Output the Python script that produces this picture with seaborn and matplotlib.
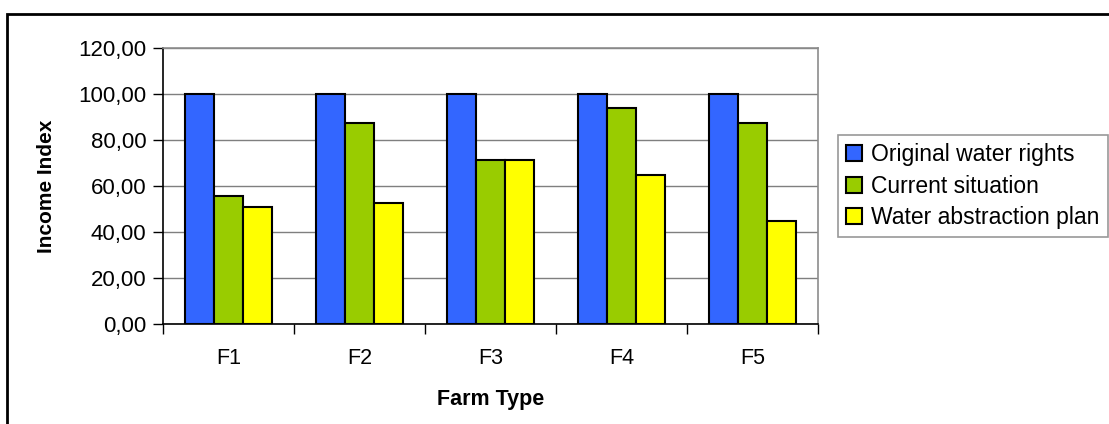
import matplotlib
matplotlib.use("Agg")
import matplotlib.pyplot as plt
from matplotlib.patches import Rectangle
from matplotlib.ticker import FuncFormatter, FixedLocator
import seaborn as sns
import pandas as pd

# Income index per farm type under three water scenarios
farm_types = ["F1", "F2", "F3", "F4", "F5"]
original_water_rights = [100.0, 100.0, 100.0, 100.0, 100.0]
current_situation = [55.5, 87.5, 71.2, 93.8, 87.5]
water_abstraction_plan = [50.7, 52.7, 71.2, 64.6, 44.9]
series_names = ["Original water rights", "Current situation", "Water abstraction plan"]
series_colors = ["#3366FF", "#99CC00", "#FFFF00"]

rows = []
for name, values in zip(series_names,
                        [original_water_rights, current_situation, water_abstraction_plan]):
    for ft, v in zip(farm_types, values):
        rows.append({"Farm Type": ft, "Scenario": name, "Income Index": v})
df = pd.DataFrame(rows)

sns.set_theme(style="white")
plt.rcParams["font.family"] = ["Liberation Sans", "DejaVu Sans"]
plt.rcParams["text.color"] = "black"
plt.rcParams["axes.labelcolor"] = "black"
plt.rcParams["xtick.color"] = "black"
plt.rcParams["ytick.color"] = "black"

fig = plt.figure(figsize=(11.09, 4.24), dpi=100)
ax = fig.add_axes([163 / 1109, 1 - 324 / 424, (818 - 163) / 1109, (324 - 48) / 424])

sns.barplot(data=df, x="Farm Type", y="Income Index", hue="Scenario",
            hue_order=series_names, palette=series_colors, order=farm_types,
            width=0.67, gap=0, edgecolor="black", linewidth=1.5,
            saturation=1, errorbar=None, ax=ax, zorder=3)

ax.set_xlim(-0.5, len(farm_types) - 0.5)
ax.set_ylim(0, 120)
ax.set_yticks([0, 20, 40, 60, 80, 100, 120])
ax.yaxis.set_major_formatter(FuncFormatter(lambda v, p: f"{v:.2f}".replace(".", ",")))
ax.yaxis.grid(True, color="#7f7f7f", linewidth=1.0, zorder=0)
ax.set_axisbelow(True)

# category labels without marks, boundary marks between categories
ax.tick_params(axis="x", which="major", length=0, pad=17, labelsize=15.5, labelcolor="black")
ax.xaxis.set_minor_locator(FixedLocator([i - 0.5 for i in range(len(farm_types) + 1)]))
ax.tick_params(axis="x", which="minor", length=7, width=1, color="black", direction="out", bottom=True)
ax.tick_params(axis="y", which="major", length=7, width=1, color="black", direction="out",
               left=True, labelsize=16, labelcolor="black", pad=5)

for side in ["left", "bottom"]:
    ax.spines[side].set_color("black")
    ax.spines[side].set_linewidth(1.2)
for side in ["top", "right"]:
    ax.spines[side].set_visible(True)
    ax.spines[side].set_color("#8c8c8c")
    ax.spines[side].set_linewidth(1.2)

ax.set_xlabel("Farm Type", fontsize=15.5, fontweight="bold", labelpad=15, color="black")
ax.set_ylabel("Income Index", fontsize=15, fontweight="bold", labelpad=16, color="black")

leg = ax.legend(loc="upper left", bbox_to_anchor=(838 / 1109, 1 - 135 / 424),
                bbox_transform=fig.transFigure, frameon=True, fancybox=False,
                edgecolor="#7f7f7f", fontsize=16.5, handlelength=0.7, handleheight=0.7,
                handletextpad=0.4, borderpad=0.35, labelspacing=0.38, borderaxespad=0)
leg.get_frame().set_linewidth(1.2)
for t in leg.get_texts():
    t.set_color("black")
for h in leg.legend_handles:
    h.set_edgecolor("black")
    h.set_linewidth(1.5)

# outer chart-area frame
fig.patches.append(Rectangle((7 / 1109, -0.2), 1.2, 1.2 - 14 / 424,
                             transform=fig.transFigure, fill=False,
                             edgecolor="black", linewidth=2.0, zorder=10))

fig.savefig("out.png", dpi=100)
